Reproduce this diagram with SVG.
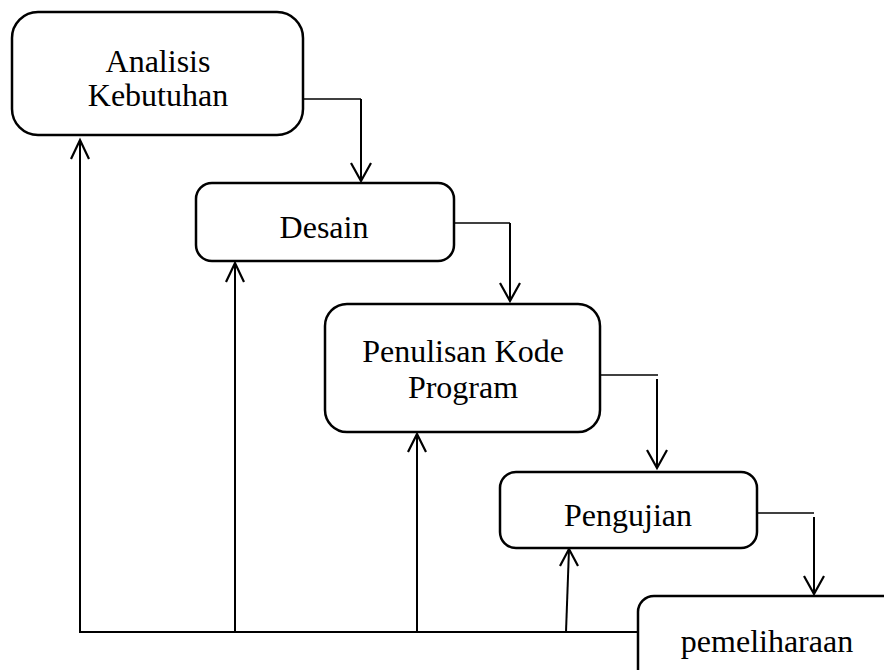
<svg xmlns="http://www.w3.org/2000/svg" width="884" height="670" viewBox="0 0 884 670">
  <style>
    .box { fill: #ffffff; stroke: #000000; stroke-width: 2.5; }
    .label { font-family: "Liberation Serif", "Times New Roman", serif; font-size: 32px; fill: #000000; text-anchor: middle; }
    .wire { fill: none; stroke: #000000; stroke-width: 2; }
    .thin { fill: none; stroke: #000000; stroke-width: 1.3; }
    .head { fill: none; stroke: #000000; stroke-width: 2.2; stroke-linejoin: miter; }
  </style>
  <rect width="884" height="670" fill="#ffffff"/>

  <g id="connectors">
    <!-- step-down flow -->
    <polyline class="thin" points="303,99 361,99"/>
    <line class="wire" x1="361" y1="99" x2="361" y2="181"/>
    <polyline class="head" points="351,163 361,181 371,163"/>

    <polyline class="thin" points="454,223 510,223"/>
    <line class="wire" x1="510" y1="223" x2="510" y2="301"/>
    <polyline class="head" points="500,283 510,301 520,283"/>

    <line class="thin" x1="600" y1="375" x2="658" y2="375" stroke="#444"/>
    <line class="wire" x1="657" y1="379" x2="657" y2="468"/>
    <polyline class="head" points="647,450 657,468 667,450"/>

    <line class="thin" x1="757" y1="513" x2="814" y2="513"/>
    <line class="wire" x1="814" y1="517" x2="814" y2="594"/>
    <polyline class="head" points="804,576 814,594 824,576"/>

    <!-- feedback bus along the bottom -->
    <line class="wire" x1="79" y1="632" x2="638" y2="632"/>
    <line class="wire" x1="80" y1="633" x2="80" y2="140"/>
    <polyline class="head" points="71,159 80,140 89,159"/>
    <line class="wire" x1="235" y1="633" x2="235" y2="263"/>
    <polyline class="head" points="226,282 235,263 244,282"/>
    <line class="wire" x1="417" y1="633" x2="417" y2="434"/>
    <polyline class="head" points="408,452 417,434 426,452"/>
    <line class="wire" x1="566" y1="632" x2="569" y2="549"/>
    <polyline class="head" points="560,566 569,549 578,566"/>
  </g>

  <g id="analisis">
    <rect class="box" x="12" y="12" width="291" height="123" rx="26" ry="26"/>
    <text class="label" x="158" y="72">Analisis</text>
    <text class="label" x="158" y="106">Kebutuhan</text>
  </g>

  <g id="desain">
    <rect class="box" x="196" y="183" width="258" height="78" rx="16" ry="16"/>
    <text class="label" x="324" y="238">Desain</text>
  </g>

  <g id="penulisan">
    <rect class="box" x="325" y="304" width="275" height="128" rx="22" ry="22"/>
    <text class="label" x="463" y="362">Penulisan Kode</text>
    <text class="label" x="463" y="398">Program</text>
  </g>

  <g id="pengujian">
    <rect class="box" x="500" y="472" width="257" height="76" rx="16" ry="16"/>
    <text class="label" x="628" y="526">Pengujian</text>
  </g>

  <g id="pemeliharaan">
    <rect class="box" x="638" y="596" width="280" height="110" rx="16" ry="16"/>
    <text class="label" x="767" y="652">pemeliharaan</text>
  </g>
</svg>
